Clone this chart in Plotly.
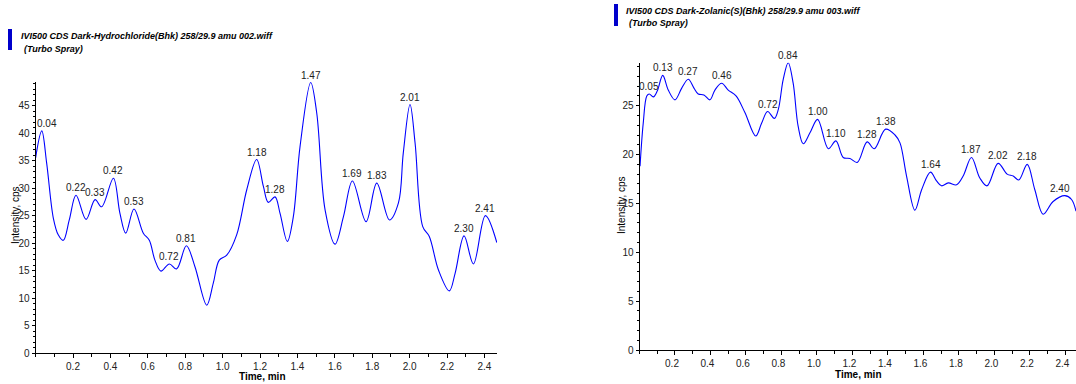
import plotly.graph_objects as go

W, H = 1076, 384

# ---------------- data ----------------
left_time = [0, 0.033, 0.059, 0.095, 0.121, 0.148, 0.18, 0.216, 0.27, 0.318, 0.353, 0.416, 0.451,
             0.482, 0.526, 0.576, 0.608, 0.638, 0.67, 0.715, 0.754, 0.806, 0.852, 0.915, 0.95,
             0.982, 1.022, 1.075, 1.129, 1.182, 1.218, 1.244, 1.28, 1.307, 1.346, 1.378, 1.414,
             1.471, 1.503, 1.548, 1.601, 1.646, 1.694, 1.767, 1.824, 1.892, 1.94, 1.966, 2.002,
             2.029, 2.07, 2.105, 2.154, 2.212, 2.243, 2.291, 2.341, 2.405, 2.466]
left_intensity = [35.5, 40.4, 34.6, 24.5, 21.5, 20.5, 24.2, 28.7, 24.3, 27.9, 26.6, 31.8, 25.4,
                  21.8, 26.2, 21.8, 20.5, 16.9, 14.9, 16.2, 15.3, 19.5, 15.7, 8.7, 12.7,
                  16.9, 17.8, 21.5, 29.7, 35.2, 30.3, 27.4, 28.4, 25.4, 20.3, 24.8, 37.6,
                  49.2, 43.7, 26.0, 19.8, 24.8, 31.3, 23.9, 30.9, 24.2, 27.3, 36.4, 45.2,
                  38.2, 23.0, 21.2, 15.1, 11.3, 14.5, 21.3, 16.2, 25.0, 20.1]
left_peak_time = [0.033, 0.216, 0.318, 0.416, 0.526, 0.715, 0.806, 1.182, 1.28, 1.471,
                  1.694, 1.824, 2.002, 2.291, 2.405]
left_peak_val = [40.4, 28.7, 27.9, 31.8, 26.2, 16.2, 19.5, 35.2, 28.4, 49.2,
                 31.3, 30.9, 45.2, 21.3, 25.0]
left_peak_label = ["0.04", "0.22", "0.33", "0.42", "0.53", "0.72", "0.81", "1.18", "1.28", "1.47",
                   "1.69", "1.83", "2.01", "2.30", "2.41"]

right_time = [0.003, 0.021, 0.041, 0.055, 0.078, 0.1, 0.131, 0.162, 0.2, 0.238, 0.275, 0.307,
              0.331, 0.363, 0.397, 0.425, 0.463, 0.5, 0.544, 0.594, 0.655, 0.688, 0.722, 0.76,
              0.782, 0.81, 0.838, 0.866, 0.894, 0.923, 0.96, 1.004, 1.064, 1.107, 1.148, 1.186,
              1.227, 1.283, 1.323, 1.387, 1.44, 1.468, 1.505, 1.552, 1.59, 1.64, 1.674, 1.702,
              1.74, 1.787, 1.824, 1.871, 1.918, 1.959, 2.021, 2.072, 2.106, 2.138, 2.185, 2.228,
              2.275, 2.331, 2.397, 2.435, 2.46]
right_intensity = [18.8, 23.2, 26.0, 26.2, 25.9, 26.5, 28.1, 26.6, 25.6, 26.8, 27.7, 26.8,
                   26.2, 26.1, 25.6, 26.6, 27.3, 26.6, 26.0, 24.3, 21.9, 23.2, 24.4, 23.7,
                   24.6, 27.7, 29.4, 27.3, 22.9, 21.1, 22.2, 23.6, 20.6, 21.4, 19.7, 19.6,
                   19.2, 21.3, 20.6, 22.6, 22.0, 21.2, 17.8, 14.3, 16.4, 18.2, 17.3, 16.8,
                   17.1, 16.9, 17.8, 19.7, 17.6, 16.8, 19.1, 18.0, 17.8, 17.4, 19.0, 16.4,
                   13.9, 15.2, 15.8, 15.4, 14.2]
right_peak_time = [0.055, 0.131, 0.275, 0.463, 0.722, 0.838, 1.004, 1.107, 1.283, 1.387,
                   1.64, 1.871, 2.021, 2.185, 2.397]
right_peak_val = [26.2, 28.1, 27.7, 27.3, 24.4, 29.4, 23.6, 21.4, 21.3, 22.6,
                  18.2, 19.7, 19.1, 19.0, 15.8]
right_peak_label = ["0.05", "0.13", "0.27", "0.46", "0.72", "0.84", "1.00", "1.10", "1.28", "1.38",
                    "1.64", "1.87", "2.02", "2.18", "2.40"]

x_tick_vals = [0.2, 0.4, 0.6, 0.8, 1.0, 1.2, 1.4, 1.6, 1.8, 2.0, 2.2, 2.4]
x_tick_text = ["0.2", "0.4", "0.6", "0.8", "1.0", "1.2", "1.4", "1.6", "1.8", "2.0", "2.2", "2.4"]
left_y_ticks = [0, 5, 10, 15, 20, 25, 30, 35, 40, 45]
right_y_ticks = [0, 5, 10, 15, 20, 25]

left_title = "IVI500 CDS Dark-Hydrochloride(Bhk) 258/29.9 amu 002.wiff"
right_title = "IVI500 CDS Dark-Zolanic(S)(Bhk) 258/29.9 amu 003.wiff"
source_note = "(Turbo Spray)"
x_title = "Time, min"
y_title = "Intensity, cps"

# ---------------- figure ----------------
FONT = "Liberation Sans Narrow, Liberation Sans, Arial, sans-serif"
BLUE = "#0000ff"

def px_x(p):
    return p / W

def px_y(p):
    return 1 - p / H

fig = go.Figure()
fig.add_trace(go.Scatter(x=left_time, y=left_intensity, mode="lines",
                         line=dict(color=BLUE, width=1.1, shape="spline", smoothing=1.0),
                         xaxis="x", yaxis="y", hoverinfo="skip", showlegend=False))
fig.add_trace(go.Scatter(x=right_time, y=right_intensity, mode="lines",
                         line=dict(color=BLUE, width=1.1, shape="spline", smoothing=1.0),
                         xaxis="x2", yaxis="y2", hoverinfo="skip", showlegend=False))

tickfont = dict(family=FONT, size=10, color="#222")
common_x = dict(showline=True, linecolor="black", linewidth=1, ticks="outside", ticklen=4,
                tickcolor="black", showgrid=False, zeroline=False, tickmode="array",
                tickvals=x_tick_vals, ticktext=x_tick_text, tickfont=tickfont, automargin=False,
                minor=dict(tickmode="linear", tick0=0, dtick=0.1, ticks="outside", ticklen=3,
                           tickcolor="black"))
common_y = dict(showline=True, linecolor="black", linewidth=1, ticks="outside", ticklen=3,
                tickcolor="black", showgrid=False, zeroline=False, tickmode="array",
                tickfont=tickfont, ticklabelstandoff=0, automargin=False,
                minor=dict(tickmode="linear", tick0=0, dtick=1, ticks="outside", ticklen=2,
                           tickcolor="black"))

fig.update_layout(
    width=W, height=H,
    margin=dict(l=0, r=0, t=0, b=0),
    paper_bgcolor="white", plot_bgcolor="white",
    xaxis=dict(common_x, domain=[px_x(35.6), px_x(497)], range=[0, 2.467], anchor="y"),
    yaxis=dict(common_y, domain=[px_y(353), px_y(82)], range=[0, 49.3], anchor="x",
               tickvals=left_y_ticks, ticktext=[str(v) for v in left_y_ticks]),
    xaxis2=dict(common_x, domain=[px_x(639.5), 1.0], range=[0, 2.46], anchor="y2",
                ticklabelshift=-3),
    yaxis2=dict(common_y, domain=[px_y(350), px_y(62.7)], range=[0, 29.4], anchor="x2",
                tickvals=right_y_ticks, ticktext=[str(v) for v in right_y_ticks]),
)

anns = []
ann_font = dict(family=FONT, size=10, color="#222")
for i, (t, v, lab) in enumerate(zip(left_peak_time, left_peak_val, left_peak_label)):
    a = dict(x=t, y=v, xref="x", yref="y", text=lab, showarrow=False,
             yanchor="bottom", font=ann_font)
    if i == 0:
        a["xshift"] = 5
    anns.append(a)
n_right = len(right_peak_time)
for i, (t, v, lab) in enumerate(zip(right_peak_time, right_peak_val, right_peak_label)):
    a = dict(x=t, y=v, xref="x2", yref="y2", text=lab, showarrow=False,
             yanchor="bottom", font=ann_font)
    if i == n_right - 1:
        a["xanchor"] = "right"
        a["xshift"] = 7
    anns.append(a)

# titles
title_font = dict(family=FONT, size=9, color="black")
anns += [
    dict(x=px_x(19), y=px_y(36), xref="paper", yref="paper", xanchor="left", yanchor="middle",
         text="<b><i>" + left_title + "</i></b>", showarrow=False, font=title_font),
    dict(x=px_x(22), y=px_y(49), xref="paper", yref="paper", xanchor="left", yanchor="middle",
         text="<b><i>" + source_note + "</i></b>", showarrow=False, font=title_font),
    dict(x=px_x(624), y=px_y(11), xref="paper", yref="paper", xanchor="left", yanchor="middle",
         text="<b><i>" + right_title + "</i></b>", showarrow=False, font=title_font),
    dict(x=px_x(627), y=px_y(23), xref="paper", yref="paper", xanchor="left", yanchor="middle",
         text="<b><i>" + source_note + "</i></b>", showarrow=False, font=title_font),
]
# axis titles
axis_font = dict(family=FONT, size=10, color="black")
anns += [
    dict(x=px_x(262), y=px_y(376), xref="paper", yref="paper", text="<b>" + x_title + "</b>",
         showarrow=False, font=axis_font, xanchor="center", yanchor="middle"),
    dict(x=px_x(858), y=px_y(374), xref="paper", yref="paper", text="<b>" + x_title + "</b>",
         showarrow=False, font=axis_font, xanchor="center", yanchor="middle"),
    dict(x=px_x(15), y=px_y(215), xref="paper", yref="paper", text=y_title, textangle=-90,
         showarrow=False, font=axis_font, xanchor="center", yanchor="middle"),
    dict(x=px_x(621), y=px_y(205), xref="paper", yref="paper", text=y_title, textangle=-90,
         showarrow=False, font=axis_font, xanchor="center", yanchor="middle"),
]
fig.update_layout(annotations=anns)

fig.update_layout(shapes=[
    dict(type="rect", xref="paper", yref="paper", x0=px_x(8), x1=px_x(12), y0=px_y(50), y1=px_y(29),
         fillcolor="#0000cc", line=dict(width=0)),
    dict(type="rect", xref="paper", yref="paper", x0=px_x(614), x1=px_x(618), y0=px_y(26), y1=px_y(4),
         fillcolor="#0000cc", line=dict(width=0)),
])

fig.write_html("out.html", config={"displayModeBar": False},
               post_script="document.body.style.margin='0';document.body.style.overflow='hidden';")
